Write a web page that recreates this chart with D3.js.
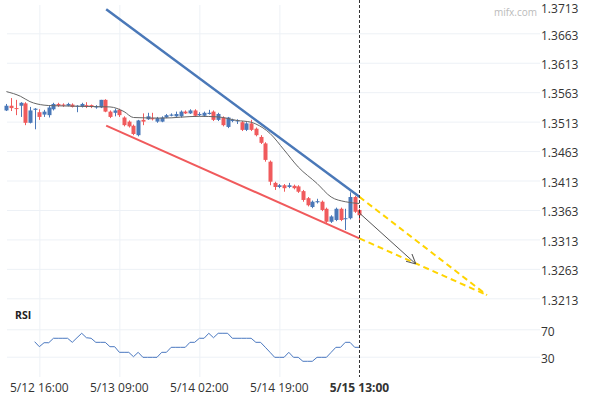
<!DOCTYPE html>
<html>
<head>
<meta charset="utf-8">
<script src="https://cdn.jsdelivr.net/npm/d3@7"></script>
<style>
  body { margin: 0; background: #fff; }
  svg { display: block; font-family: "Open Sans", sans-serif; }
  .grid line { stroke: #edf1f6; }
  .grid path { display: none; }
</style>
</head>
<body>
<div id="chart"></div>
<script>
// hourly candles, index 0 = 5/12 09:00 ... index 75 = 5/15 13:00
var opens  = [1.3532,1.3540,1.3536,1.3540,1.3544,1.3511,1.3533,1.3529,1.3525,1.3524,
              1.3534,1.3543,1.3542,1.3540,1.3542,1.3539,1.3538,1.3541,1.3541,1.3537,
              1.3537,1.3550,1.3530,1.3528,1.3533,1.3520,1.3513,1.3506,1.3490,1.3516,
              1.3517,1.3519,1.3513,1.3513,1.3520,1.3523,1.3522,1.3522,1.3530,1.3527,
              1.3532,1.3524,1.3523,1.3526,1.3530,1.3516,1.3520,1.3504,1.3514,1.3514,
              1.3512,1.3499,1.3510,1.3501,1.3487,1.3476,1.3445,1.3409,1.3402,1.3405,
              1.3402,1.3404,1.3403,1.3395,1.3383,1.3368,1.3376,1.3377,1.3365,1.3343,
              1.3346,1.3365,1.3348,1.3349,1.3385,1.3363];
var closes = [1.3540,1.3536,1.3535,1.3545,1.3511,1.3532,1.3535,1.3521,1.3530,1.3537,
              1.3543,1.3540,1.3540,1.3543,1.3538,1.3540,1.3543,1.3538,1.3538,1.3539,
              1.3550,1.3530,1.3521,1.3532,1.3524,1.3507,1.3505,1.3492,1.3515,1.3513,
              1.3522,1.3517,1.3519,1.3520,1.3524,1.3525,1.3526,1.3530,1.3527,1.3532,
              1.3523,1.3526,1.3528,1.3528,1.3516,1.3526,1.3507,1.3520,1.3516,1.3515,
              1.3499,1.3510,1.3499,1.3490,1.3477,1.3448,1.3411,1.3402,1.3405,1.3400,
              1.3405,1.3400,1.3394,1.3380,1.3371,1.3377,1.3378,1.3363,1.3343,1.3352,
              1.3365,1.3346,1.3349,1.3385,1.3360,1.3354];
var highs  = [1.3543,1.3553,1.3550,1.3546,1.3546,1.3538,1.3536,1.3534,1.3533,1.3540,
              1.3545,1.3545,1.3544,1.3545,1.3544,1.3541,1.3545,1.3546,1.3542,1.3541,
              1.3550,1.3551,1.3532,1.3535,1.3535,1.3522,1.3515,1.3508,1.3516,1.3527,
              1.3528,1.3528,1.3521,1.3522,1.3526,1.3527,1.3530,1.3532,1.3532,1.3534,
              1.3534,1.3529,1.3530,1.3533,1.3532,1.3528,1.3522,1.3521,1.3518,1.3517,
              1.3514,1.3512,1.3516,1.3503,1.3490,1.3478,1.3447,1.3411,1.3407,1.3407,
              1.3409,1.3406,1.3405,1.3397,1.3385,1.3379,1.3382,1.3379,1.3367,1.3354,
              1.3367,1.3367,1.3365,1.3393,1.3387,1.3365];
var lows   = [1.3531,1.3531,1.3524,1.3521,1.3507,1.3510,1.3500,1.3516,1.3521,1.3520,
              1.3532,1.3538,1.3538,1.3539,1.3537,1.3529,1.3537,1.3536,1.3536,1.3535,
              1.3536,1.3529,1.3519,1.3522,1.3521,1.3505,1.3503,1.3490,1.3488,1.3507,
              1.3516,1.3515,1.3511,1.3512,1.3519,1.3522,1.3521,1.3520,1.3526,1.3526,
              1.3521,1.3522,1.3521,1.3525,1.3514,1.3514,1.3505,1.3502,1.3512,1.3509,
              1.3497,1.3497,1.3497,1.3488,1.3475,1.3445,1.3405,1.3397,1.3400,1.3394,
              1.3400,1.3398,1.3392,1.3377,1.3369,1.3366,1.3374,1.3361,1.3341,1.3341,
              1.3344,1.3344,1.3329,1.3347,1.3358,1.3346];

// moving average, read at a few candle positions
var maIdx = [0, 3, 5, 8, 10, 22, 25, 27, 33, 41, 45, 49, 52, 53, 56, 59, 62, 66, 69, 72, 75];
var maVal = [1.3564,1.3556,1.3547,1.3541,1.3540,1.3538,1.3530,1.3520,1.3519,1.3522,1.3521,
             1.3515,1.3512,1.3509,1.3493,1.3465,1.3436,1.3408,1.3385,1.3377,1.3374];

// RSI from candle 6 to 75
var rsiStart = 6;
var rsiVal = [51.9,44.6,50.4,50.4,56.9,56.9,56.9,56.9,51.0,57.7,
              64.2,57.7,56.9,51.0,51.0,51.0,44.6,44.6,36.4,36.4,
              36.4,30.0,36.4,29.1,29.1,29.1,29.1,36.4,36.4,43.7,
              43.7,43.7,43.7,51.0,51.0,56.9,56.9,64.2,57.7,64.2,
              64.2,64.2,56.9,56.9,56.9,56.9,56.9,51.0,51.0,43.8,
              36.5,29.1,29.1,29.1,36.4,29.1,29.1,23.3,23.3,23.3,
              29.1,29.1,29.1,36.4,43.7,43.7,51.0,51.0,43.7,43.7];

// trend lines [index, price]
var upperLine = [[21.2, 1.37038], [75, 1.33853]];
var lowerLine = [[21.2, 1.35061], [75, 1.33148]];
var apex = [102.1, 1.32184];
var arrowLine = [[75, 1.33578], [87.0, 1.32712]];

var priceTicks = [1.3713,1.3663,1.3613,1.3563,1.3513,1.3463,1.3413,1.3363,1.3313,1.3263,1.3213];
var rsiTicks = [70, 30];
var timeIdx = [7, 24, 41, 58, 75];
var timeLabels = ["5/12 16:00", "5/13 09:00", "5/14 02:00", "5/14 19:00", "5/15 13:00"];

var width = 590, height = 400;
var upColor = "#4a78b8", downColor = "#f05a5c";

var svg = d3.select("#chart").append("svg")
    .attr("width", width)
    .attr("height", height);

var x = d3.scaleLinear().domain([0, 75]).range([6.4, 359.4]);
var y = d3.scaleLinear().domain([1.3213, 1.3663]).range([298.3, 33.3]);
var yr = d3.scaleLinear().domain([30, 70]).range([356.7, 329.3]);

// grid
svg.append("g")
    .attr("class", "grid")
    .attr("transform", "translate(540,0)")
    .call(d3.axisLeft(y).tickValues(priceTicks.slice(1)).tickSize(533).tickFormat(""));
svg.append("g")
    .attr("class", "grid")
    .attr("transform", "translate(540,0)")
    .call(d3.axisLeft(yr).tickValues(rsiTicks).tickSize(533).tickFormat(""));
svg.append("g")
    .attr("class", "grid")
    .attr("transform", "translate(0,377)")
    .call(d3.axisTop(x).tickValues(timeIdx.slice(0, 4)).tickSize(372).tickFormat(""));

// price labels
svg.append("g").selectAll("text")
    .data(priceTicks)
  .enter().append("text")
    .attr("x", 541)
    .attr("y", function(d) { return Math.max(8.5, y(d) + 2); })
    .attr("dy", "0.35em")
    .style("font-size", "12px")
    .style("fill", "#333")
    .text(function(d) { return d3.format(".4f")(d); });

svg.append("text")
    .attr("x", 537).attr("y", 16)
    .attr("text-anchor", "end")
    .style("font-size", "10px")
    .style("fill", "#bbb")
    .text("mifx.com");

// rsi labels
svg.append("g").selectAll("text")
    .data(rsiTicks)
  .enter().append("text")
    .attr("x", 541)
    .attr("y", function(d) { return yr(d) + 2; })
    .attr("dy", "0.35em")
    .style("font-size", "12px")
    .style("fill", "#333")
    .text(function(d) { return d; });

svg.append("text")
    .attr("x", 15).attr("y", 319)
    .style("font-size", "10.5px")
    .style("font-weight", "bold")
    .style("fill", "#222")
    .text("RSI");

// time labels
svg.append("g").selectAll("text")
    .data(timeIdx)
  .enter().append("text")
    .attr("x", function(d) { return x(d); })
    .attr("y", 392)
    .attr("text-anchor", "middle")
    .style("font-size", "12px")
    .style("fill", "#333")
    .style("font-weight", function(d, i) { return i == timeIdx.length - 1 ? "bold" : null; })
    .text(function(d, i) { return timeLabels[i]; });

// candles
var candles = opens.map(function(o, i) {
  return {i: i, o: o, c: closes[i], h: highs[i], l: lows[i]};
});
var cg = svg.append("g").selectAll("g")
    .data(candles)
  .enter().append("g");
cg.append("line")
    .attr("x1", function(d) { return Math.round(x(d.i)) + 0.5; })
    .attr("x2", function(d) { return Math.round(x(d.i)) + 0.5; })
    .attr("y1", function(d) { return y(d.h); })
    .attr("y2", function(d) { return y(d.l); })
    .style("stroke", function(d) { return d.c >= d.o ? upColor : downColor; });
cg.append("rect")
    .attr("x", function(d) { return Math.round(x(d.i)) - 1.5; })
    .attr("width", 4)
    .attr("y", function(d) { return y(Math.max(d.o, d.c)); })
    .attr("height", function(d) { return Math.max(1, Math.abs(y(d.o) - y(d.c))); })
    .style("fill", function(d) { return d.c >= d.o ? upColor : downColor; });

// moving average
var maLine = d3.line()
    .x(function(d) { return x(d); })
    .y(function(d, i) { return y(maVal[i]); })
    .curve(d3.curveMonotoneX);
svg.append("path")
    .attr("d", maLine(maIdx))
    .style("fill", "none")
    .style("stroke", "#666")
    .style("stroke-width", 1);

// trend lines
var tl = d3.line()
    .x(function(d) { return x(d[0]); })
    .y(function(d) { return y(d[1]); });
svg.append("path")
    .attr("d", tl(upperLine))
    .style("stroke", "#4a78b8").style("stroke-width", 2.5).style("fill", "none");
svg.append("path")
    .attr("d", tl(lowerLine))
    .style("stroke", "#f05a5c").style("stroke-width", 2).style("fill", "none");
svg.append("path")
    .attr("d", tl([upperLine[1], apex]))
    .style("stroke", "#ffd400").style("stroke-width", 2).style("stroke-dasharray", "6,4").style("fill", "none");
svg.append("path")
    .attr("d", tl([lowerLine[1], apex]))
    .style("stroke", "#ffd400").style("stroke-width", 2).style("stroke-dasharray", "6,4").style("fill", "none");

// projected arrow
svg.append("defs").append("marker")
    .attr("id", "head")
    .attr("viewBox", "0 0 10 10")
    .attr("refX", 10).attr("refY", 5)
    .attr("markerWidth", 10).attr("markerHeight", 10)
    .attr("markerUnits", "userSpaceOnUse")
    .attr("orient", "auto")
  .append("path")
    .attr("d", "M0,0L10,5L0,10")
    .style("fill", "none")
    .style("stroke", "#555")
    .style("stroke-width", 1);
svg.append("path")
    .attr("d", tl(arrowLine))
    .style("stroke", "#555").style("stroke-width", 1).style("fill", "none")
    .attr("marker-end", "url(#head)");

// RSI
var rsiLine = d3.line()
    .x(function(d, i) { return x(rsiStart + i); })
    .y(function(d) { return yr(d); });
svg.append("path")
    .attr("d", rsiLine(rsiVal))
    .style("fill", "none")
    .style("stroke", "#4a78c0")
    .style("stroke-width", 1);

// current time marker
svg.append("line")
    .attr("x1", Math.round(x(75)) + 0.5).attr("x2", Math.round(x(75)) + 0.5)
    .attr("y1", 0).attr("y2", 377)
    .style("stroke", "#333")
    .style("stroke-dasharray", "3,2");
</script>
</body>
</html>
